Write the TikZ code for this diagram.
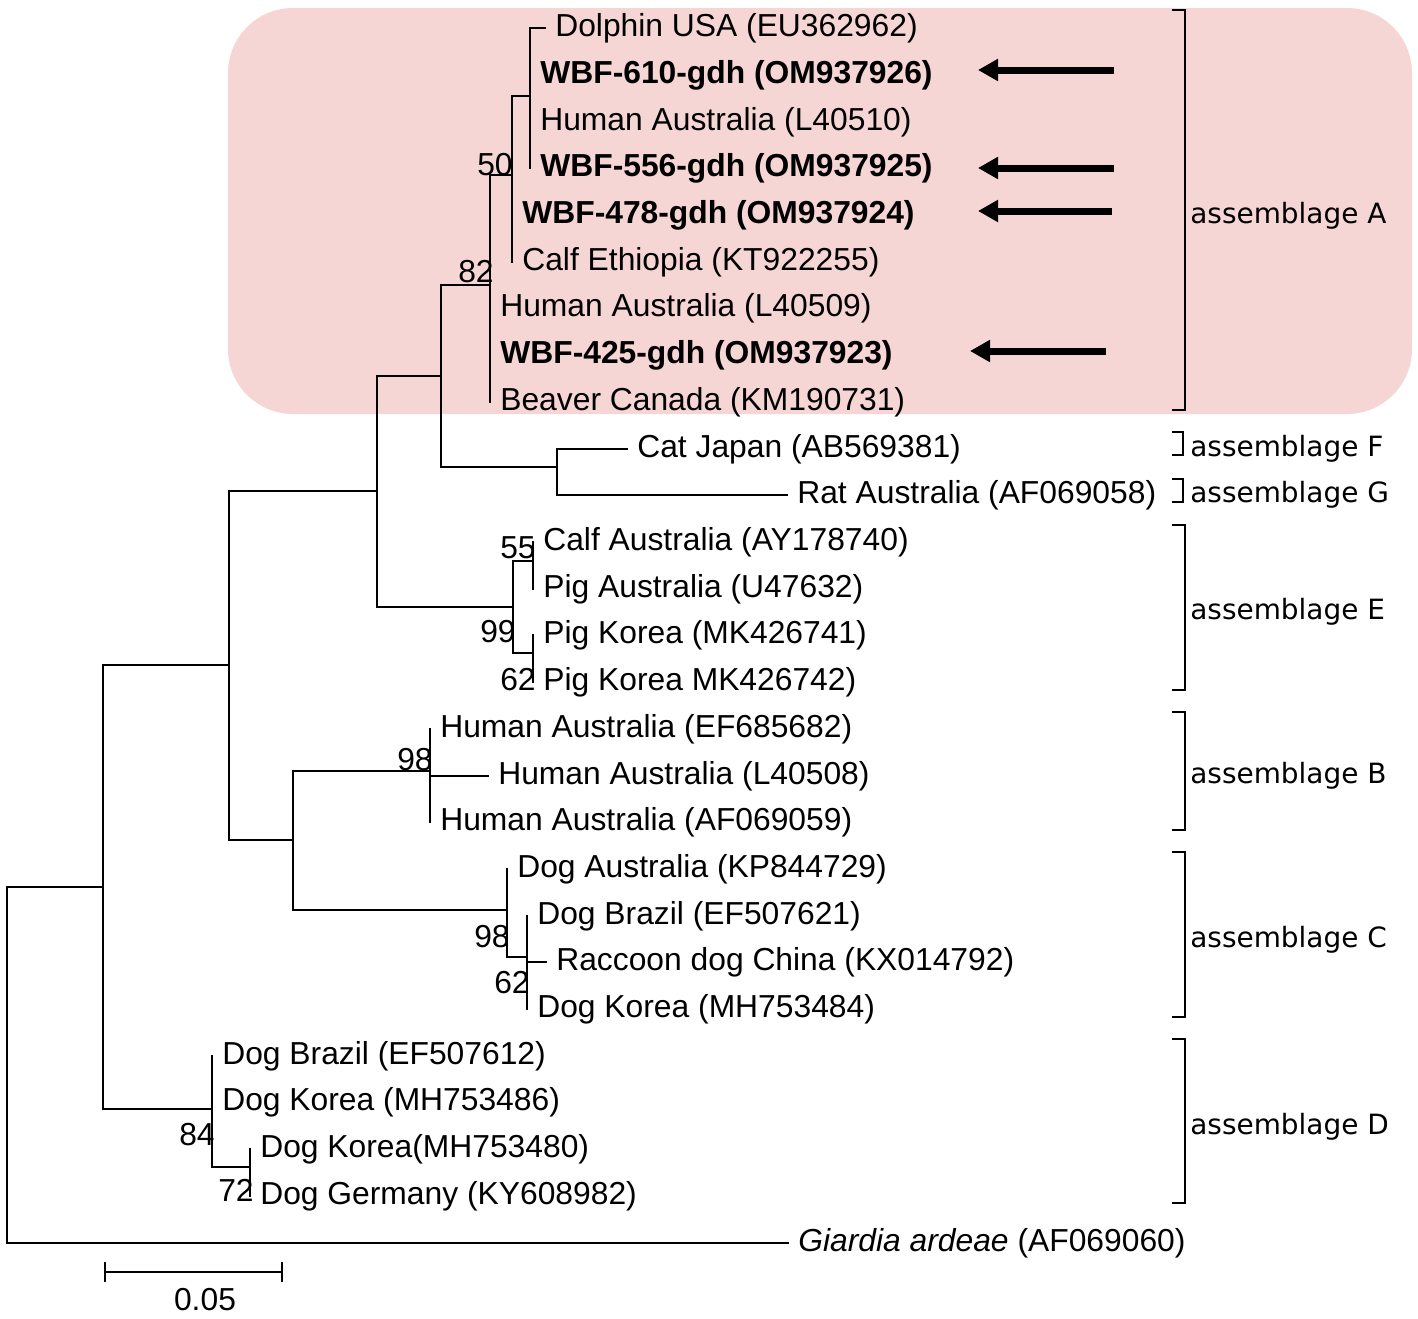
\documentclass[tikz,border=0pt]{standalone}
\usepackage{fontspec}
\setmainfont{Liberation Sans}
\newfontfamily\cladefont{DejaVu Sans}
\usepackage{xcolor}
\usepackage{tikz}
\usetikzlibrary{arrows.meta,positioning,calc}
\definecolor{cladepink}{RGB}{246,213,213}

\begin{document}
\begin{tikzpicture}[
    x=0.02cm, y=-0.02cm,
    branch/.style={line width=1pt, line cap=rect},
    taxon/.style={anchor=west, inner xsep=0.2cm, inner ysep=0pt, font=\fontsize{18.1}{20}\selectfont},
    wbf/.style={taxon, font=\fontsize{18.1}{20}\selectfont\bfseries},
    boot/.style={inner sep=0pt, font=\fontsize{18.1}{20}\selectfont},
    clade/.style={anchor=west, inner sep=0pt, font=\cladefont\fontsize{15.9}{18}\selectfont},
    pointer/.style={line width=0.14cm, -{Triangle[length=0.4cm, width=0.42cm]}}
]
\useasboundingbox (0,0) rectangle (1418,1319);

% assemblage A background
\fill[cladepink, rounded corners=1.3cm] (228,8) rectangle (1412,414);

% internal nodes
\coordinate (root) at (7,1062);
\coordinate (n7) at (103,887);
\coordinate (n6) at (229,665);
\coordinate (n5) at (377,491);
\coordinate (n4) at (441,376);
\coordinate (n3) at (490,285);
\coordinate (n2) at (512,175);
\coordinate (n1) at (530,96);
\coordinate (nFG) at (557,467);
\coordinate (nE) at (513,607);
\coordinate (nE1) at (533,561);
\coordinate (nE2) at (533,653);
\coordinate (nBC) at (293,840);
\coordinate (nB) at (430,771);
\coordinate (nC) at (507,910);
\coordinate (nC2) at (527,957);
\coordinate (nD) at (212,1109);
\coordinate (nD2) at (250,1167);

% taxa
\node[taxon] (dolphin) at (545,28) {Dolphin USA (EU362962)};
\node[wbf] (wbf610) at (530,75) {WBF-610-gdh (OM937926)};
\node[taxon] (humL40510) at (530,122) {Human Australia (L40510)};
\node[wbf] (wbf556) at (530,168) {WBF-556-gdh (OM937925)};
\node[wbf] (wbf478) at (512,215) {WBF-478-gdh (OM937924)};
\node[taxon] (calfeth) at (512,262) {Calf Ethiopia (KT922255)};
\node[taxon] (humL40509) at (490,308) {Human Australia (L40509)};
\node[wbf] (wbf425) at (490,355) {WBF-425-gdh (OM937923)};
\node[taxon] (beaver) at (490,402) {Beaver Canada (KM190731)};
\node[taxon] (cat) at (627,449) {Cat Japan (AB569381)};
\node[taxon] (rat) at (787,495) {Rat Australia (AF069058)};
\node[taxon] (calfaus) at (533,542) {Calf Australia (AY178740)};
\node[taxon] (pigaus) at (533,589) {Pig Australia (U47632)};
\node[taxon] (pigkor1) at (533,635) {Pig Korea (MK426741)};
\node[taxon] (pigkor2) at (533,682) {Pig Korea MK426742)};
\node[taxon] (humEF) at (430,729) {Human Australia (EF685682)};
\node[taxon] (humL40508) at (488,776) {Human Australia (L40508)};
\node[taxon] (humAF) at (430,822) {Human Australia (AF069059)};
\node[taxon] (dogaus) at (507,869) {Dog Australia (KP844729)};
\node[taxon] (dogbra1) at (527,916) {Dog Brazil (EF507621)};
\node[taxon] (raccoon) at (546,962) {Raccoon dog China (KX014792)};
\node[taxon] (dogkor1) at (527,1009) {Dog Korea (MH753484)};
\node[taxon] (dogbra2) at (212,1056) {Dog Brazil (EF507612)};
\node[taxon] (dogkor2) at (212,1102) {Dog Korea (MH753486)};
\node[taxon] (dogkor3) at (250,1149) {Dog Korea(MH753480)};
\node[taxon] (dogger) at (250,1196) {Dog Germany (KY608982)};
\node[taxon] (ardeae) at (788,1243) {\textit{Giardia ardeae} (AF069060)};

% branches
\draw[branch] (root) |- (n7);
\draw[branch] (root) |- (ardeae.west);
\draw[branch] (n7) |- (n6);
\draw[branch] (n7) |- (nD);
\draw[branch] (n6) |- (n5);
\draw[branch] (n6) |- (nBC);
\draw[branch] (n5) |- (n4);
\draw[branch] (n5) |- (nE);
\draw[branch] (n4) |- (n3);
\draw[branch] (n4) |- (nFG);
\draw[branch] (n3) |- (n2);
\draw[branch] (n3) |- (humL40509.west);
\draw[branch] (n3) |- (wbf425.west);
\draw[branch] (n3) |- (beaver.west);
\draw[branch] (n2) |- (n1);
\draw[branch] (n2) |- (wbf478.west);
\draw[branch] (n2) |- (calfeth.west);
\draw[branch] (n1) |- (dolphin.west);
\draw[branch] (n1) |- (wbf610.west);
\draw[branch] (n1) |- (humL40510.west);
\draw[branch] (n1) |- (wbf556.west);
\draw[branch] (nFG) |- (cat.west);
\draw[branch] (nFG) |- (rat.west);
\draw[branch] (nE) |- (nE1);
\draw[branch] (nE) |- (nE2);
\draw[branch] (nE1) |- (calfaus.west);
\draw[branch] (nE1) |- (pigaus.west);
\draw[branch] (nE2) |- (pigkor1.west);
\draw[branch] (nE2) |- (pigkor2.west);
\draw[branch] (nBC) |- (nB);
\draw[branch] (nBC) |- (nC);
\draw[branch] (nB) |- (humEF.west);
\draw[branch] (nB) |- (humL40508.west);
\draw[branch] (nB) |- (humAF.west);
\draw[branch] (nC) |- (dogaus.west);
\draw[branch] (nC) |- (nC2);
\draw[branch] (nC2) |- (dogbra1.west);
\draw[branch] (nC2) |- (raccoon.west);
\draw[branch] (nC2) |- (dogkor1.west);
\draw[branch] (nD) |- (dogbra2.west);
\draw[branch] (nD) |- (dogkor2.west);
\draw[branch] (nD) |- (nD2);
\draw[branch] (nD2) |- (dogkor3.west);
\draw[branch] (nD2) |- (dogger.west);

% bootstrap values
\node[boot] (bs50) at (495,165) {50};
\node[boot] (bs82) at (476,272) {82};
\node[boot] (bs55) at (518,548) {55};
\node[boot] (bs99) at (498,632) {99};
\node[boot] (bs62e) at (518,680) {62};
\node[boot] (bs98b) at (415,760) {98};
\node[boot] (bs98c) at (492,937) {98};
\node[boot] (bs62c) at (512,983) {62};
\node[boot] (bs84) at (197,1135) {84};
\node[boot] (bs72) at (236,1190) {72};

% new isolates
\coordinate (p610) at (1114,70);
\coordinate (p556) at (1114,168);
\coordinate (p478) at (1112,211);
\coordinate (p425) at (1106,351);
\draw[pointer] (p610) -- (978,70);
\draw[pointer] (p556) -- (978,168);
\draw[pointer] (p478) -- (978,211);
\draw[pointer] (p425) -- (970,351);

% assemblage brackets
\draw[branch] (1173,10) -| (1185,410) -- (1173,410);
\node[clade] (asmA) at (1190,216) {assemblage A};
\draw[branch] (1173,432) -| (1183,455) -- (1173,455);
\node[clade] (asmF) at (1190,449) {assemblage F};
\draw[branch] (1173,479) -| (1183,502) -- (1173,502);
\node[clade] (asmG) at (1190,495) {assemblage G};
\draw[branch] (1173,525) -| (1185,690) -- (1173,690);
\node[clade] (asmE) at (1190,612) {assemblage E};
\draw[branch] (1173,712) -| (1185,830) -- (1173,830);
\node[clade] (asmB) at (1190,776) {assemblage B};
\draw[branch] (1173,852) -| (1185,1017) -- (1173,1017);
\node[clade] (asmC) at (1190,940) {assemblage C};
\draw[branch] (1173,1039) -| (1185,1203) -- (1173,1203);
\node[clade] (asmD) at (1190,1127) {assemblage D};

% scale bar
\coordinate (sbl) at (105,1272);
\coordinate (sbr) at (282,1272);
\draw[branch] (sbl) -- (sbr);
\draw[branch] ($(sbl)+(0,-9)$) -- ($(sbl)+(0,9)$);
\draw[branch] ($(sbr)+(0,-9)$) -- ($(sbr)+(0,9)$);
\node[boot] (sblabel) at (205,1300) {0.05};
\end{tikzpicture}
\end{document}
